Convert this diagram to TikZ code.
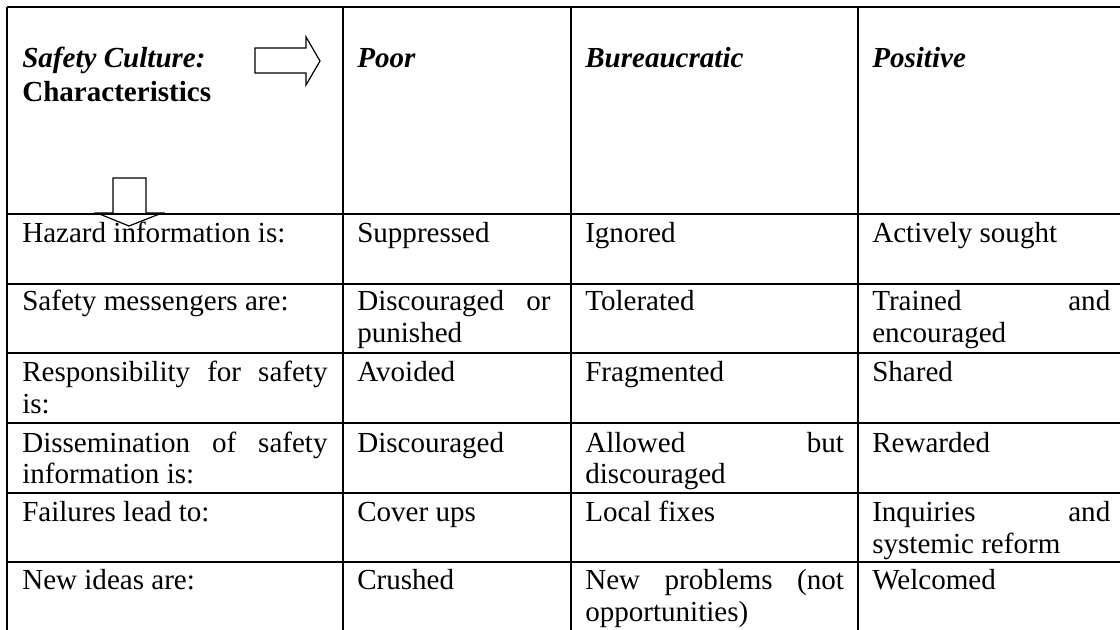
\documentclass[tikz,border=0pt]{standalone}
\usepackage{fontspec}
\setmainfont{Liberation Serif}
\usetikzlibrary{positioning}
\hyphenpenalty=10000
\exhyphenpenalty=10000
\tolerance=10000

\begin{document}
\begin{tikzpicture}[x=0.75pt, y=-0.75pt,
    cell/.style={anchor=base west, inner sep=0pt, align=justify, font=\fontsize{21.8}{24}\selectfont},
    colA/.style={cell, text width=229pt}, colB/.style={cell, text width=145pt},
    colC/.style={cell, text width=194pt}, colD/.style={cell, text width=178.5pt},
    head/.style={font=\fontsize{21.8}{25.5}\selectfont\bfseries\itshape},
    grid/.style={line width=1.5pt}, blockarrow/.style={draw, line width=0.9pt, line join=miter}]

    \clip (0,0) rectangle (1120,630);

    % Header row
    \node[colA, head] (hChar) at (22,68) {Safety Culture:\\\upshape Characteristics};
    \node[colB, head] (hPoor) at (357,68) {Poor};
    \node[colC, head] (hBur) at (585,68) {Bureaucratic};
    \node[colD, head] (hPos) at (872,68) {Positive};

    % Characteristics, one row each
    \node[colA] (hazA) at (22,243) {Hazard information is:};
    \node[colB] (hazB) at (357,243) {Suppressed};
    \node[colC] (hazC) at (585,243) {Ignored};
    \node[colD] (hazD) at (872,243) {Actively sought};

    \node[colA] (msgA) at (22,311) {Safety messengers are:};
    \node[colB] (msgB) at (357,311) {Discouraged or\linebreak punished};
    \node[colC] (msgC) at (585,311) {Tolerated};
    \node[colD] (msgD) at (872,311) {Trained and\linebreak encouraged};

    \node[colA] (resA) at (22,382) {Responsibility for safety\linebreak is:};
    \node[colB] (resB) at (357,382) {Avoided};
    \node[colC] (resC) at (585,382) {Fragmented};
    \node[colD] (resD) at (872,382) {Shared};

    \node[colA] (disA) at (22,452) {Dissemination of safety\linebreak information is:};
    \node[colB] (disB) at (357,452) {Discouraged};
    \node[colC] (disC) at (585,452) {Allowed but\linebreak discouraged};
    \node[colD] (disD) at (872,452) {Rewarded};

    \node[colA] (failA) at (22,521) {Failures lead to:};
    \node[colB] (failB) at (357,521) {Cover ups};
    \node[colC] (failC) at (585,521) {Local fixes};
    \node[colD] (failD) at (872,521) {Inquiries and\linebreak systemic reform};

    \node[colA] (newA) at (22,589) {New ideas are:};
    \node[colB] (newB) at (357,589) {Crushed};
    \node[colC] (newC) at (585,589) {New problems (not\linebreak opportunities)};
    \node[colD] (newD) at (872,589) {Welcomed};

    % Table rules
    \draw[grid] (7,7) -- (1130,7);
    \draw[grid] (7,214) -- (1130,214);
    \draw[grid] (7,284) -- (1130,284);
    \draw[grid] (7,353) -- (1130,353);
    \draw[grid] (7,423) -- (1130,423);
    \draw[grid] (7,493) -- (1130,493);
    \draw[grid] (7,562) -- (1130,562);
    \draw[grid] (7,7) -- (7,640);
    \draw[grid] (343,7) -- (343,640);
    \draw[grid] (571,7) -- (571,640);
    \draw[grid] (858,7) -- (858,640);
    \draw[grid] (1124,7) -- (1124,640);

    % Block arrows: across the cultures, down the characteristics
    \draw[blockarrow] (255,48) -- (306,48) -- (306,37) -- (320,61) -- (306,85) -- (306,73) -- (255,73) -- cycle;
    \draw[blockarrow] (113,178) -- (146,178) -- (146,213) -- (162,213) -- (129,226) -- (97,213) -- (113,213) -- cycle;
\end{tikzpicture}
\end{document}
